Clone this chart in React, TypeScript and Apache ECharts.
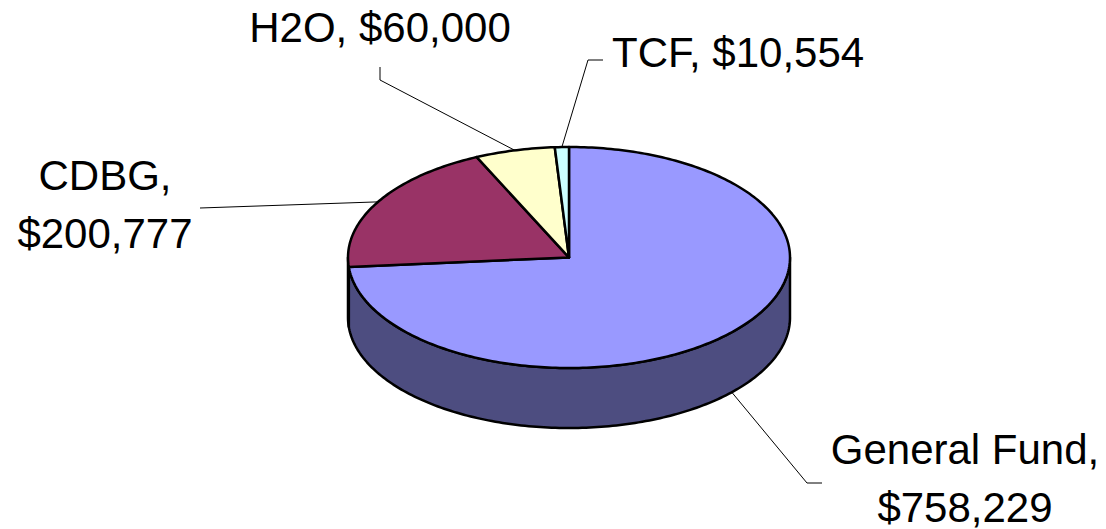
import React, { useEffect, useRef } from "react";
import * as echarts from "echarts";

const categories = ["General Fund", "CDBG", "H2O", "TCF"];
const values = [758229, 200777, 60000, 10554];
const labelTexts = ["General Fund,\n$758,229", "CDBG,\n$200,777", "H2O, $60,000", "TCF, $10,554"];
const topColors = ["#9999FF", "#993366", "#FFFFCC", "#CCFFFF"];
const sideColors = ["#4D4D80", "#4D1A33", "#808066", "#668080"];

// layout (label anchors and leader elbows)
const CX = 569, CY = 257.5, RX = 221, RY = 110.5, DEPTH = 60;
const leaderPts: number[][][] = [
  [[807, 483], [822, 483]],
  [[200, 208]],
  [[380, 80], [380, 67]],
  [[588, 60], [603, 60]],
];
const labelPos = [
  { x: 965, y: 478, align: "center" },
  { x: 105, y: 204, align: "center" },
  { x: 380, y: 27.5, align: "center" },
  { x: 612, y: 52.5, align: "left" },
];

const FONT = "'Liberation Sans', Arial, sans-serif";

function pt(theta: number, dz: number): number[] {
  const r = (theta * Math.PI) / 180;
  return [CX + RX * Math.sin(r), CY - RY * Math.cos(r) + dz];
}

function arc(a: number, b: number, dz: number): number[][] {
  const n = Math.max(2, Math.ceil(Math.abs(b - a) / 1));
  const out: number[][] = [];
  for (let k = 0; k <= n; k++) out.push(pt(a + ((b - a) * k) / n, dz));
  return out;
}

export default function App() {
  const ref = useRef<HTMLDivElement>(null);
  useEffect(() => {
    if (!ref.current) return;
    const chart = echarts.init(ref.current, undefined, { renderer: "svg" });
    const total = values.reduce((s, v) => s + v, 0);
    const renderItem = (params: any, api: any) => {
      const i = params.dataIndex;
      let before = 0;
      for (let k = 0; k < i; k++) before += values[k];
      const v = api.value(0);
      const start = (before / total) * 360;
      const end = ((before + v) / total) * 360;
      const children: any[] = [];
      const a = Math.max(start, 90), b = Math.min(end, 270);
      if (a < b) {
        const pts = arc(a, b, 0).concat(arc(b, a, DEPTH));
        children.push({
          type: "polygon",
          shape: { points: pts },
          style: { fill: sideColors[i], stroke: "#000", lineWidth: 2.5, lineJoin: "round" },
        });
      }
      const topPts = [[CX, CY]].concat(arc(start, end, 0));
      children.push({
        type: "polygon",
        shape: { points: topPts },
        style: { fill: topColors[i], stroke: "#000", lineWidth: 2.5, lineJoin: "round" },
      });
      const mid = (start + end) / 2;
      const front = Math.cos((mid * Math.PI) / 180) < 0;
      const attach = pt(mid, front ? DEPTH : 0);
      children.push({
        type: "polyline",
        shape: { points: [attach].concat(leaderPts[i]) },
        style: { stroke: "#000", lineWidth: 1, fill: null },
      });
      const lp = labelPos[i];
      children.push({
        type: "text",
        style: {
          text: labelTexts[i],
          x: lp.x,
          y: lp.y,
          align: lp.align,
          verticalAlign: "middle",
          fill: "#000",
          fontSize: 42,
          fontFamily: FONT,
          lineHeight: 58,
        },
      });
      return { type: "group", children };
    };
    chart.setOption({
      animation: false,
      backgroundColor: "#ffffff",
      series: [
        {
          type: "custom",
          coordinateSystem: "none",
          name: "Funding",
          data: values.map((v, k) => ({ name: categories[k], value: [v] })),
          renderItem,
        },
      ],
    });
    return () => chart.dispose();
  }, []);
  return (
    <div
      ref={ref}
      style={{ position: "fixed", left: 0, top: 0, width: 1106, height: 529, background: "#fff" }}
    />
  );
}
